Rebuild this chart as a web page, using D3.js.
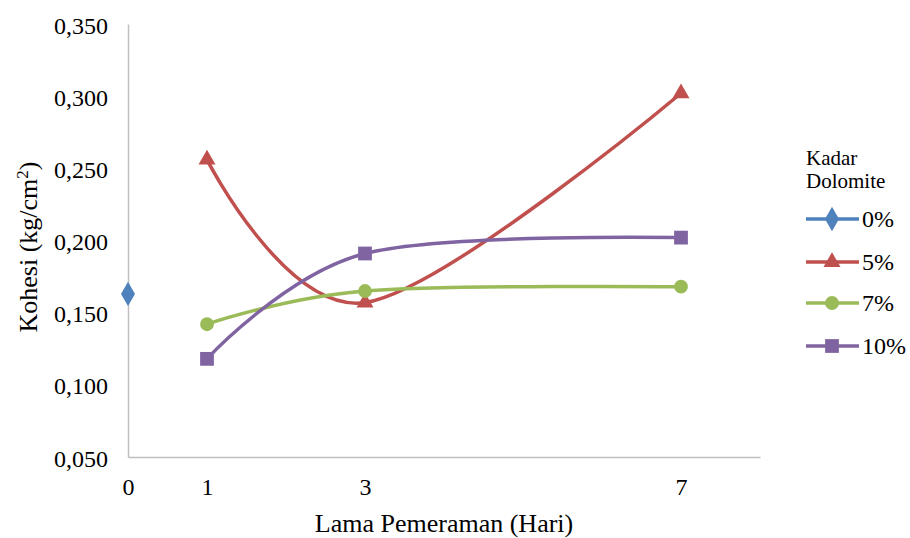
<!DOCTYPE html>
<html>
<head>
<meta charset="utf-8">
<script src="https://cdn.jsdelivr.net/npm/d3@7"></script>
<style>
  html, body { margin: 0; padding: 0; background: #fff; }
  svg { display: block; font-family: "Liberation Serif", "Times New Roman", serif; }
</style>
</head>
<body>
<svg id="chart" width="910" height="538"></svg>
<script>
// Curing time (days) on the x axis
const xTicks = [0, 1, 3, 7];
const yTicks = [0.05, 0.10, 0.15, 0.20, 0.25, 0.30, 0.35];

// Cohesion (kg/cm2) per dolomite content
const days0 = [0];
const kohesi0 = [0.163];
const days5 = [1, 3, 7];
const kohesi5 = [0.256, 0.157, 0.302];
const days7 = [1, 3, 7];
const kohesi7 = [0.142, 0.165, 0.168];
const days10 = [1, 3, 7];
const kohesi10 = [0.118, 0.191, 0.202];

const seriesNames = ["0%", "5%", "7%", "10%"];
const seriesColors = ["#4F81BD", "#C0504D", "#9BBB59", "#8064A2"];
const seriesMarkers = [d3.symbolDiamond, d3.symbolTriangle, d3.symbolCircle, d3.symbolSquare];

const series = [
  { name: seriesNames[0], xs: days0, ys: kohesi0 },
  { name: seriesNames[1], xs: days5, ys: kohesi5 },
  { name: seriesNames[2], xs: days7, ys: kohesi7 },
  { name: seriesNames[3], xs: days10, ys: kohesi10 }
].map((s, i) => ({
  ...s,
  color: seriesColors[i],
  marker: seriesMarkers[i],
  points: s.xs.map((x, j) => ({ x, y: s.ys[j] }))
}));

const svg = d3.select("#chart");
const plotLeft = 128, plotRight = 760, plotTop = 24, plotBottom = 457;

const x = d3.scaleLinear().domain([0, 8]).range([plotLeft, plotRight]);
const y = d3.scaleLinear().domain([0.05, 0.35]).range([plotBottom, plotTop]);

const fmt = v => d3.format(".3f")(v).replace(".", ",");
const axisColor = "#BFBFBF";
const serif = "'Liberation Serif', 'Times New Roman', serif";

// Y axis
const yAxis = svg.append("g")
  .attr("transform", `translate(${plotLeft},0)`)
  .call(d3.axisLeft(y).tickValues(yTicks).tickFormat(fmt).tickSize(0).tickPadding(20));
yAxis.select(".domain").attr("stroke", axisColor).attr("stroke-width", 1.5);
yAxis.selectAll("text").attr("font-size", 24).attr("fill", "#000").attr("font-family", serif)
  .attr("dy", "0.38em");

// X axis
const xAxis = svg.append("g")
  .attr("transform", `translate(0,${plotBottom})`)
  .call(d3.axisBottom(x).tickValues(xTicks).tickFormat(d3.format("d")).tickSize(0));
xAxis.select(".domain").attr("stroke", axisColor).attr("stroke-width", 1.5);
xAxis.selectAll("text").attr("font-size", 24).attr("fill", "#000").attr("font-family", serif)
  .attr("y", 38).attr("dy", null);

// Axis titles
svg.append("text")
  .attr("x", 444).attr("y", 532)
  .attr("text-anchor", "middle")
  .attr("font-size", 26)
  .attr("font-family", serif)
  .text("Lama Pemeraman (Hari)");

const yTitle = svg.append("text")
  .attr("transform", "translate(37,247) rotate(-90)")
  .attr("text-anchor", "middle")
  .attr("font-family", serif)
  .attr("font-size", 26);
yTitle.append("tspan").text("Kohesi (kg/cm");
yTitle.append("tspan").attr("font-size", 17).attr("dy", -9).text("2");
yTitle.append("tspan").attr("dy", 9).text(")");

// Smoothed series lines
const line = d3.line()
  .x(d => x(d.x))
  .y(d => y(d.y))
  .curve(d3.curveCardinal.tension(0));

const plot = svg.append("g");
series.forEach(s => {
  if (s.points.length > 1) {
    plot.append("path")
      .datum(s.points)
      .attr("fill", "none")
      .attr("stroke", s.color)
      .attr("stroke-width", 3.5)
      .attr("d", line);
  }
});

// Markers
const markerSizes = new Map([
  [d3.symbolDiamond, 170], [d3.symbolTriangle, 125], [d3.symbolCircle, 150], [d3.symbolSquare, 190]
]);
const sym = type => d3.symbol().type(type).size(markerSizes.get(type));

series.forEach(s => {
  plot.selectAll(null)
    .data(s.points)
    .join("path")
    .attr("transform", d => `translate(${x(d.x)},${y(d.y)})`)
    .attr("d", sym(s.marker))
    .attr("fill", s.color);
});

// Legend
const legend = svg.append("g").attr("font-family", serif);
legend.append("text").attr("x", 806).attr("y", 165).attr("font-size", 21).text("Kadar");
legend.append("text").attr("x", 806).attr("y", 188).attr("font-size", 21).text("Dolomite");
const legendY = [219, 262, 303, 346];
series.forEach((s, i) => {
  const g = legend.append("g").attr("transform", `translate(0,${legendY[i]})`);
  g.append("line").attr("x1", 806).attr("x2", 859).attr("y1", 0).attr("y2", 0)
    .attr("stroke", s.color).attr("stroke-width", 3.5);
  g.append("path").attr("transform", "translate(832,0)").attr("d", sym(s.marker)).attr("fill", s.color);
  g.append("text").attr("x", 862).attr("y", 0).attr("dy", "0.35em")
    .attr("font-size", 24).text(s.name);
});
</script>
</body>
</html>
